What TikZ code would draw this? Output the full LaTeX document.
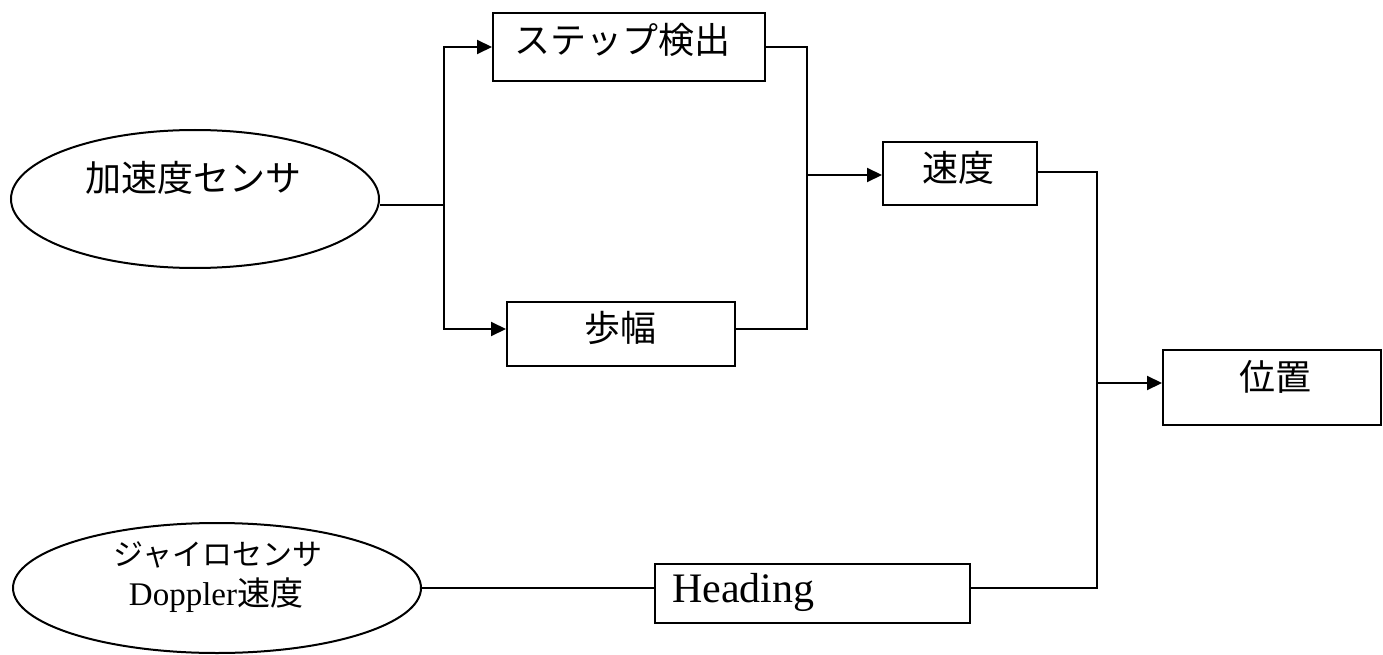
\documentclass[tikz,border=0pt]{standalone}
\usepackage{fontspec}
\setmainfont{Liberation Serif}
\newfontfamily\cjk{Noto Sans CJK JP}
\usetikzlibrary{shapes.geometric,arrows.meta}
\tikzset{
  conn/.style={line width=2pt},
  arr/.style={conn,-{Triangle[length=15pt,width=14pt]}},
  oval/.style={ellipse,draw,line width=2pt,inner sep=0pt,fill=white},
  blk/.style={rectangle,draw,line width=2pt,inner sep=0pt,fill=white},
  jp/.style={inner sep=0pt,font=\cjk\fontsize{36}{38}\selectfont},
}
\begin{document}
\begin{tikzpicture}[x=1pt,y=-1pt]
\useasboundingbox[fill=white] (0,0) rectangle (1383,655);
% shapes
\node[oval,minimum width=368pt,minimum height=138pt] (e1) at (195,199) {};
\node[oval,minimum width=408pt,minimum height=130pt] (e2) at (217,588) {};
\node[blk,minimum width=272pt,minimum height=68pt] (s1) at (629,47) {};
\node[blk,minimum width=228pt,minimum height=64pt] (s2) at (621,334) {};
\node[blk,minimum width=154pt,minimum height=63pt] (v) at (960,173.5) {};
\node[blk,minimum width=218pt,minimum height=75pt] (p) at (1272,387.5) {};
\node[blk,minimum width=315pt,minimum height=59pt] (h) at (812.5,593.5) {};
% texts
\node[jp] (t1) at (193,178) {加速度センサ};
\node[jp] (t2) at (622,40) {ステップ検出};
\node[jp] (t3) at (620,328) {歩幅};
\node[jp] (t4) at (958,168) {速度};
\node[jp] (t5) at (1275,377) {位置};
\node[inner sep=0pt,font=\cjk\fontsize{30}{32}\selectfont] (t6) at (218,555) {ジャイロセンサ};
\node[inner sep=0pt,font=\fontsize{33}{35}\selectfont] (t7) at (216,595) {Doppler{\cjk 速度}};
\node[inner sep=0pt,anchor=base west,font=\fontsize{42}{44}\selectfont] (t8) at (672,602) {Heading};
% junctions
\coordinate (j1) at (444,205);
\coordinate (j2) at (807,175);
\coordinate (j3) at (1097,383);
% connectors
\draw[conn] (e1.east |- j1) -- (j1);
\draw[arr] (j1) |- (s1.west);
\draw[arr] (j1) |- ([yshift=5pt]s2.west);
\draw[conn] (s1.east) -| (j2);
\draw[conn] ([yshift=5pt]s2.east) -| (j2);
\draw[arr] (j2) -- (j2 -| v.west);
\draw[conn] ([yshift=1.5pt]v.east) -| (j3);
\draw[arr] (j3) -- (j3 -| p.west);
\draw[conn] (e2.east) -- (e2.east -| h.west);
\draw[conn] (h.east |- e2.east) -| (j3);
\end{tikzpicture}
\end{document}
